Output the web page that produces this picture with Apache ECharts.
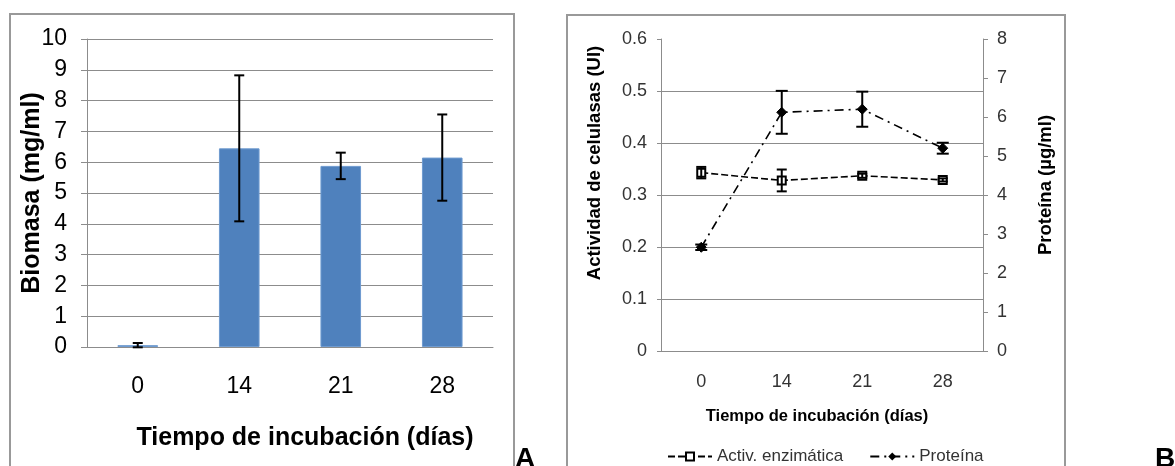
<!DOCTYPE html>
<html>
<head>
<meta charset="utf-8">
<script src="https://cdn.jsdelivr.net/npm/echarts@6/dist/echarts.min.js"></script>
<style>
  html, body { margin: 0; padding: 0; background: #fff; }
  #chart { width: 1175px; height: 466px; }
</style>
</head>
<body>
<div id="chart"></div>
<script>
// datos
var dias = ['0', '14', '21', '28'];
var biomasa = [0.06, 6.45, 5.88, 6.15];
var biomasaErr = [0.07, 2.37, 0.43, 1.40];
var actividad = [0.343, 0.328, 0.337, 0.329];
var actividadErr = [0.011, 0.021, 0.004, 0.003];
var proteina = [2.66, 6.12, 6.20, 5.20];
var proteinaErr = [0.07, 0.55, 0.45, 0.14];

function errData(vals, errs) {
  return vals.map(function (v, i) { return [i, v - errs[i], v + errs[i]]; });
}

function makeErrRender(cap, lw) {
  return function (params, api) {
    var x = api.value(0);
    var top = api.coord([x, api.value(2)]);
    var bot = api.coord([x, api.value(1)]);
    var st = { stroke: '#000', lineWidth: lw };
    return {
      type: 'group',
      children: [
        { type: 'line', shape: { x1: top[0], y1: top[1], x2: bot[0], y2: bot[1] }, style: st },
        { type: 'line', shape: { x1: top[0] - cap, y1: top[1], x2: top[0] + cap, y2: top[1] }, style: st },
        { type: 'line', shape: { x1: bot[0] - cap, y1: bot[1], x2: bot[0] + cap, y2: bot[1] }, style: st }
      ]
    };
  };
}

var font = 'Liberation Sans, Arial, sans-serif';
var gris = '#8c8c8c';

var chart = echarts.init(document.getElementById('chart'));
chart.setOption({
  animation: false,
  textStyle: { fontFamily: font },
  graphic: [
    { type: 'rect', shape: { x: 10, y: 14, width: 504, height: 470 }, style: { fill: 'none', stroke: '#999', lineWidth: 2 } },
    { type: 'rect', shape: { x: 567, y: 15, width: 498, height: 470 }, style: { fill: 'none', stroke: '#999', lineWidth: 2 } },
    { type: 'text', left: 515, top: 445, style: { text: 'A', font: 'bold 28px Liberation Sans, Arial', fill: '#000' } },
    { type: 'text', left: 1155, top: 445, style: { text: 'B', font: 'bold 28px Liberation Sans, Arial', fill: '#000' } }
  ],
  legend: {
    left: 662, top: 443,
    itemWidth: 44, itemHeight: 10, itemGap: 26,
    data: ['Activ. enzimática', 'Proteína'],
    textStyle: { fontSize: 17, color: '#333', fontFamily: font }
  },
  grid: [
    { left: 87, top: 39, width: 406, height: 308 },
    { left: 661, top: 39, width: 322, height: 312 }
  ],
  xAxis: [
    {
      gridIndex: 0, type: 'category', data: dias,
      axisLine: { lineStyle: { color: gris } },
      axisTick: { length: 8, lineStyle: { color: gris } },
      axisLabel: { fontSize: 23, color: '#000', margin: 28 },
      name: 'Tiempo de incubación (días)', nameLocation: 'middle', nameGap: 79,
      nameTextStyle: { fontSize: 25, fontWeight: 'bold', color: '#000', padding: [0, 0, 0, 30] }
    },
    {
      gridIndex: 1, type: 'category', data: dias,
      axisLine: { lineStyle: { color: gris } },
      axisTick: { length: 5, lineStyle: { color: gris } },
      axisLabel: { fontSize: 18, color: '#333', margin: 22 },
      name: 'Tiempo de incubación (días)', nameLocation: 'middle', nameGap: 57,
      nameTextStyle: { fontSize: 16.5, fontWeight: 'bold', color: '#000', padding: [0, 10, 0, 0] }
    }
  ],
  yAxis: [
    {
      gridIndex: 0, type: 'value', min: 0, max: 10, interval: 1,
      axisLine: { show: true, lineStyle: { color: gris } },
      axisTick: { show: true, length: 6, lineStyle: { color: gris } },
      axisLabel: { fontSize: 23, color: '#000', margin: 20 },
      splitLine: { lineStyle: { color: gris } },
      name: 'Biomasa (mg/ml)', nameLocation: 'middle', nameGap: 42, nameMoveOverlap: false,
      nameTextStyle: { fontSize: 25, fontWeight: 'bold', color: '#000' }
    },
    {
      gridIndex: 1, type: 'value', min: 0, max: 0.6, interval: 0.1,
      axisLine: { show: true, lineStyle: { color: gris } },
      axisTick: { show: true, length: 4, lineStyle: { color: gris } },
      axisLabel: { fontSize: 18, color: '#333', margin: 14 },
      splitLine: { showMaxLine: false, lineStyle: { color: gris } },
      name: 'Actividad de celulasas (UI)', nameLocation: 'middle', nameGap: 57,
      nameTextStyle: { fontSize: 18.5, fontWeight: 'bold', color: '#000', padding: [0, 0, 0, 64] }
    },
    {
      gridIndex: 1, type: 'value', position: 'right', min: 0, max: 8, interval: 1,
      axisLine: { show: true, lineStyle: { color: gris } },
      axisTick: { show: true, length: 5, lineStyle: { color: gris } },
      axisLabel: { fontSize: 18, color: '#333', margin: 14 },
      splitLine: { show: false },
      name: 'Proteína (µg/ml)', nameLocation: 'middle', nameGap: 53,
      nameTextStyle: { fontSize: 18.5, fontWeight: 'bold', color: '#000', padding: [0, 0, 0, 20] }
    }
  ],
  series: [
    {
      name: 'Biomasa', type: 'bar', xAxisIndex: 0, yAxisIndex: 0,
      data: biomasa, barWidth: '40%',
      itemStyle: { color: '#4f81bd', borderColor: '#6f9bd0', borderWidth: 1 }
    },
    {
      type: 'custom', xAxisIndex: 0, yAxisIndex: 0, z: 5,
      data: errData(biomasa, biomasaErr), encode: { x: 0, y: [1, 2] },
      renderItem: makeErrRender(5, 2)
    },
    {
      name: 'Activ. enzimática', type: 'line', xAxisIndex: 1, yAxisIndex: 1,
      data: actividad, symbol: 'rect', symbolSize: 8,
      lineStyle: { color: '#000', width: 1.6, type: [7, 3] },
      itemStyle: { color: '#fff', borderColor: '#000', borderWidth: 2 }
    },
    {
      type: 'custom', xAxisIndex: 1, yAxisIndex: 1, z: 5,
      data: errData(actividad, actividadErr), encode: { x: 0, y: [1, 2] },
      renderItem: makeErrRender(5, 2)
    },
    {
      name: 'Proteína', type: 'line', xAxisIndex: 1, yAxisIndex: 2,
      data: proteina, symbol: 'diamond', symbolSize: 10,
      lineStyle: { color: '#000', width: 1.6, type: [9, 5, 2, 5] },
      itemStyle: { color: '#000', borderColor: '#000' }
    },
    {
      type: 'custom', xAxisIndex: 1, yAxisIndex: 2, z: 5,
      data: errData(proteina, proteinaErr), encode: { x: 0, y: [1, 2] },
      renderItem: makeErrRender(6, 2)
    }
  ]
});
</script>
</body>
</html>
